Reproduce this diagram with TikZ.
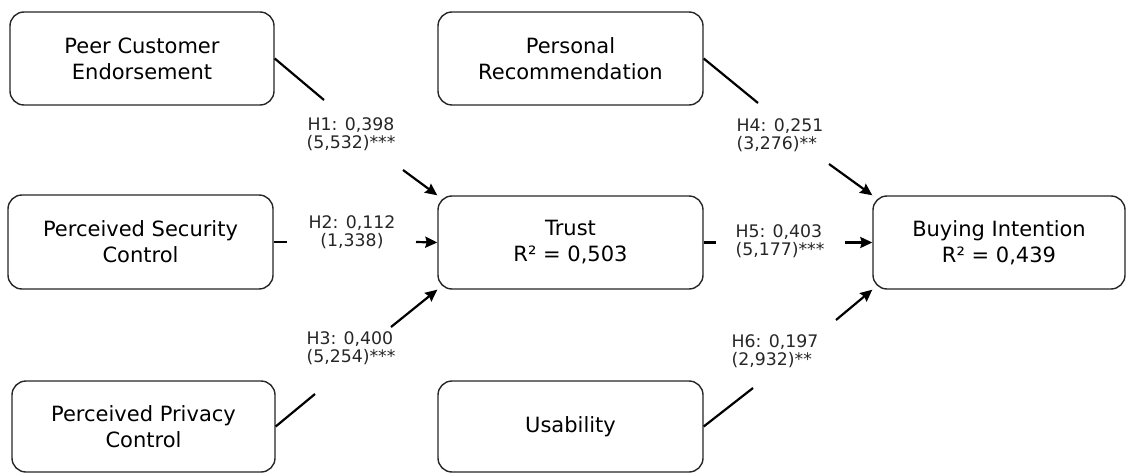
\documentclass[tikz,border=0pt]{standalone}
\usepackage{fontspec}
\setmainfont{DejaVu Sans}
\usetikzlibrary{arrows.meta}
\tikzset{
  box/.style={draw=black!85, line width=1.4pt, rounded corners=14pt, fill=white,
    align=center, inner sep=0pt,
    font=\fontsize{21}{26}\selectfont},
  conn/.style={line width=2.2pt, black},
  arr/.style={line width=2.2pt, black, -{Stealth[length=12pt,width=11pt,inset=1.5pt]}},
  lab/.style={font=\fontsize{17.3}{18.5}\selectfont, inner sep=0pt, text=black!85}
}
\begin{document}
\begin{tikzpicture}[x=1pt,y=-1pt]
\useasboundingbox (0,0) rectangle (1126,473);
% boxes
\node[box, minimum width=264pt, minimum height=93pt] (pce) at (142,58.5) {Peer Customer\\Endorsement};
\node[box, minimum width=265pt, minimum height=94pt] (pse) at (140.5,242) {Perceived Security\\Control};
\node[box, minimum width=263pt, minimum height=91pt] (ppc) at (143.5,426.5) {Perceived Privacy\\Control};
\node[box, minimum width=265pt, minimum height=93pt] (pr) at (570.5,58.5) {Personal\\Recommendation};
\node[box, minimum width=265pt, minimum height=93pt] (trust) at (570.5,242.5) {Trust\\R² = 0,503};
\node[box, minimum width=265pt, minimum height=91pt] (us) at (570.5,426.5) {Usability};
\node[box, minimum width=252pt, minimum height=93pt] (bi) at (999,242.5) {Buying Intention\\R² = 0,439};
% coordinates for line breaks
\coordinate (h1a) at (324,100);
\coordinate (h1b) at (403,170);
\coordinate (h2a) at (287,242);
\coordinate (h2b) at (416,242);
\coordinate (h3a) at (315,394);
\coordinate (h3b) at (391,327);
\coordinate (h4a) at (758,103);
\coordinate (h4b) at (829,164);
\coordinate (h5a) at (716,242.5);
\coordinate (h5b) at (845,242.5);
\coordinate (h6a) at (753,388);
\coordinate (h6b) at (836,320);
% connectors
\draw[conn] (pce.east) -- (h1a);
\draw[arr] (h1b) -- (trust.north west);
\draw[conn] (pse.east) -- (h2a);
\draw[arr] (h2b) -- (trust.west);
\draw[conn] (ppc.east) -- (h3a);
\draw[arr] (h3b) -- (trust.south west);
\draw[conn] (pr.east) -- (h4a);
\draw[arr] (h4b) -- (bi.north west);
\draw[conn] (trust.east) -- (h5a);
\draw[arr] (h5b) -- (bi.west);
\draw[conn] (us.east) -- (h6a);
\draw[arr] (h6b) -- (bi.south west);
% labels
\node[lab, align=center] (l1) at (351,134) {H1: 0,398\\(5,532)***};
\node[lab, align=center] (l2) at (352,232) {H2: 0,112\\(1,338)};
\node[lab, align=left] (l3) at (351,348) {H3: 0,400\\(5,254)***};
\node[lab, align=left] (l4) at (780,135) {H4: 0,251\\(3,276)**};
\node[lab, align=left] (l5) at (780,241) {H5: 0,403\\(5,177)***};
\node[lab, align=left] (l6) at (775,351) {H6: 0,197\\(2,932)**};
\end{tikzpicture}
\end{document}
